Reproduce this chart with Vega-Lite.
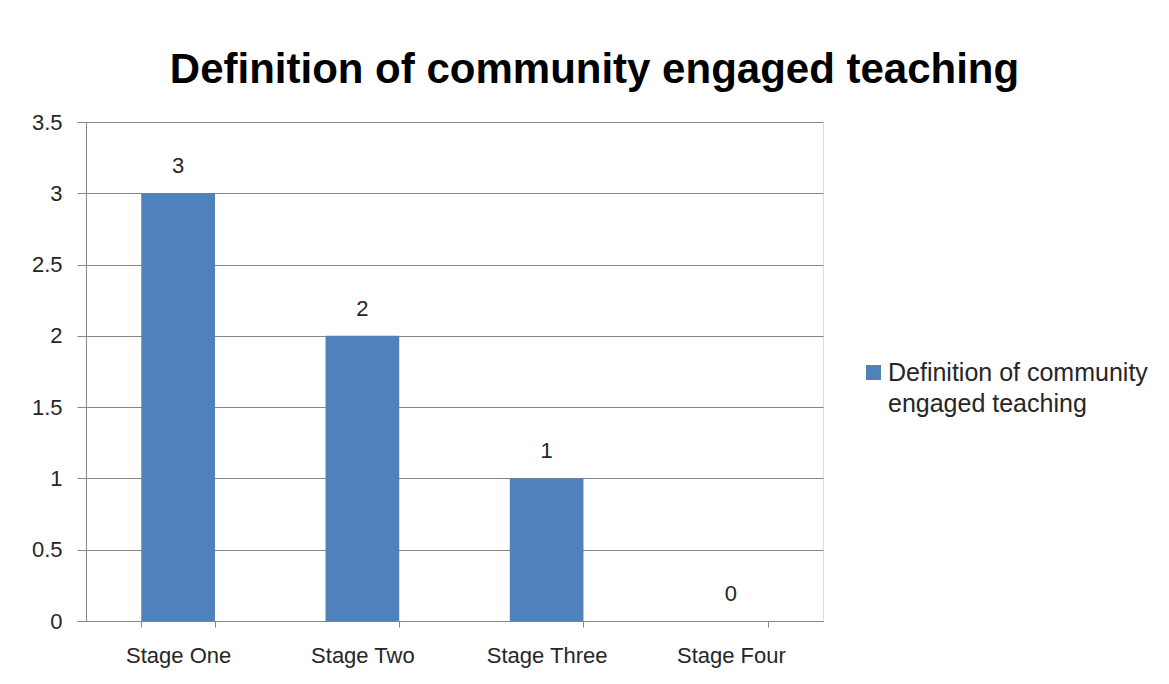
{
  "$schema": "https://vega.github.io/schema/vega-lite/v6.json",
  "autosize": {"type": "none"},
  "padding": {"left": 86, "top": 122, "right": 346, "bottom": 63},
  "width": 737,
  "height": 499,
  "background": "white",
  "title": {
    "text": "Definition of community engaged teaching",
    "font": "Liberation Sans",
    "fontSize": 42,
    "fontWeight": "bold",
    "color": "#000000",
    "anchor": "middle",
    "dx": 140,
    "offset": 19
  },
  "config": {
    "style": {"guide-label": {"dy": -12, "lineHeight": 31}}
  },
  "data": {
    "values": [
      {"stage": "Stage One", "value": 3, "series": "Definition of community engaged teaching"},
      {"stage": "Stage Two", "value": 2, "series": "Definition of community engaged teaching"},
      {"stage": "Stage Three", "value": 1, "series": "Definition of community engaged teaching"},
      {"stage": "Stage Four", "value": 0, "series": "Definition of community engaged teaching"}
    ]
  },
  "encoding": {
    "x": {
      "field": "stage",
      "type": "nominal",
      "sort": null,
      "scale": {"paddingInner": 0.6, "paddingOuter": 0.3},
      "axis": {
        "title": null,
        "labelAngle": 0,
        "labelFont": "Liberation Sans",
        "labelFontSize": 22,
        "labelColor": "#262626",
        "labelPadding": 30,
        "ticks": true,
        "tickBand": "extent",
        "tickSize": 6,
        "tickWidth": 1,
        "tickColor": "#868686",
        "domainColor": "#868686",
        "grid": false
      }
    },
    "y": {
      "field": "value",
      "type": "quantitative",
      "scale": {"domain": [0, 3.5], "nice": false},
      "axis": {
        "title": null,
        "values": [0, 0.5, 1, 1.5, 2, 2.5, 3, 3.5],
        "format": "~g",
        "labelFont": "Liberation Sans",
        "labelFontSize": 22,
        "labelColor": "#262626",
        "labelPadding": 15,
        "labelOffset": 12,
        "ticks": true,
        "tickSize": 9,
        "tickWidth": 1,
        "tickColor": "#868686",
        "domainColor": "#868686",
        "gridColor": "#868686",
        "grid": true
      }
    }
  },
  "layer": [
    {
      "mark": {"type": "bar"},
      "encoding": {
        "color": {
          "field": "series",
          "type": "nominal",
          "scale": {"range": ["#4F81BD"]},
          "legend": {
            "title": null,
            "orient": "none",
            "legendX": 775,
            "legendY": 238,
            "symbolType": "square",
            "symbolSize": 225,
            "symbolStrokeWidth": 0,
            "labelFont": "Liberation Sans",
            "labelFontSize": 25,
            "labelColor": "#262626",
            "labelLimit": 400,
            "labelOffset": 2,
            "labelBaseline": "top",
            "labelExpr": "['Definition of community', 'engaged teaching']"
          }
        }
      }
    },
    {
      "mark": {"type": "text", "baseline": "middle", "dy": -27, "font": "Liberation Sans", "fontSize": 22, "color": "#262626"},
      "encoding": {"text": {"field": "value", "type": "quantitative"}}
    }
  ]
}
